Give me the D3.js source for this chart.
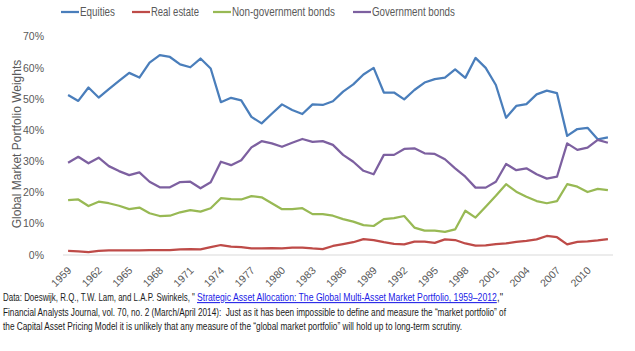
<!DOCTYPE html>
<html>
<head>
<meta charset="utf-8">
<script src="https://cdn.jsdelivr.net/npm/d3@7"></script>
<style>
  html, body { margin: 0; padding: 0; background: #fff; }
  svg { display: block; }
</style>
</head>
<body>
<svg id="chart" width="635" height="351"></svg>
<script>
const years = [1959, 1960, 1961, 1962, 1963, 1964, 1965, 1966, 1967, 1968,
  1969, 1970, 1971, 1972, 1973, 1974, 1975, 1976, 1977, 1978,
  1979, 1980, 1981, 1982, 1983, 1984, 1985, 1986, 1987, 1988,
  1989, 1990, 1991, 1992, 1993, 1994, 1995, 1996, 1997, 1998,
  1999, 2000, 2001, 2002, 2003, 2004, 2005, 2006, 2007, 2008,
  2009, 2010, 2011, 2012]

const tickYears = [1959, 1962, 1965, 1968, 1971, 1974, 1977, 1980, 1983, 1986,
  1989, 1992, 1995, 1998, 2001, 2004, 2007, 2010]

const yTicks = [0, 0.1, 0.2, 0.3, 0.4, 0.5, 0.6, 0.7]

// weights in %
const equities = [51.3, 49.4, 53.7, 50.5, 53.2, 55.8, 58.4, 56.9, 61.7, 64.1,
  63.5, 61.1, 60.2, 63.0, 59.8, 49.0, 50.4, 49.6, 44.3, 42.2,
  45.3, 48.3, 46.5, 45.2, 48.3, 48.1, 49.3, 52.4, 54.7, 57.9,
  60.0, 52.1, 52.1, 49.9, 52.9, 55.3, 56.4, 56.9, 59.5, 56.8,
  63.2, 60.0, 54.5, 44.0, 47.8, 48.4, 51.5, 52.7, 51.9, 38.2,
  40.4, 40.8, 37.1, 37.7]

const realEstate = [1.3, 1.2, 0.9, 1.3, 1.5, 1.5, 1.5, 1.5, 1.6, 1.6,
  1.6, 1.8, 1.9, 1.8, 2.5, 3.2, 2.7, 2.5, 2.1, 2.1,
  2.2, 2.1, 2.4, 2.4, 2.1, 1.9, 2.9, 3.5, 4.1, 5.1,
  4.8, 4.1, 3.6, 3.4, 4.3, 4.3, 3.9, 5.0, 4.8, 3.7,
  3.0, 3.1, 3.5, 3.7, 4.2, 4.5, 5.0, 6.1, 5.7, 3.4,
  4.2, 4.4, 4.7, 5.1]

const nonGovBonds = [17.6, 17.8, 15.7, 17.1, 16.6, 15.8, 14.7, 15.2, 13.4, 12.5,
  12.6, 13.7, 14.4, 13.9, 15.0, 18.2, 17.9, 17.8, 18.9, 18.5,
  16.6, 14.7, 14.7, 15.0, 13.1, 13.1, 12.6, 11.5, 10.7, 9.6,
  9.3, 11.5, 11.8, 12.5, 8.8, 7.8, 7.8, 7.4, 8.2, 14.2,
  12.0, 15.5, 19.0, 22.7, 20.3, 18.7, 17.3, 16.6, 17.3, 22.7,
  21.9, 20.2, 21.2, 20.8]

const govBonds = [29.6, 31.5, 29.4, 31.2, 28.5, 26.9, 25.6, 26.5, 23.5, 21.7,
  21.7, 23.4, 23.5, 21.4, 23.3, 29.9, 28.8, 30.4, 34.5, 36.5,
  35.8, 34.7, 36.0, 37.2, 36.3, 36.5, 35.3, 32.1, 29.9, 27.0,
  25.9, 32.1, 32.1, 34.0, 34.2, 32.6, 32.4, 30.7, 27.8, 25.1,
  21.6, 21.6, 23.5, 29.2, 27.2, 27.8, 25.9, 24.5, 25.1, 35.8,
  33.7, 34.4, 36.9, 36.0]

const seriesNames = ['Equities', 'Real estate', 'Non-government bonds', 'Government bonds']
const seriesColors = ['#4a7ebb', '#be4b48', '#98b954', '#7d60a0']
const seriesValues = [equities, realEstate, nonGovBonds, govBonds]

// source note pieces: [text, line, is link]
const notePieces = [
  ['Data: Doeswijk, R.Q., T.W. Lam, and L.A.P. Swinkels, "', 0, false],
  ['Strategic Asset Allocation: The Global Multi-Asset Market Portfolio, 1959–2012', 0, true],
  [',"', 0, false],
  ['Financial Analysts Journal, vol. 70, no. 2 (March/April 2014):\u00a0 Just as it has been impossible to define and measure the “market portfolio” of', 1, false],
  ['the Capital Asset Pricing Model it is unlikely that any measure of the “global market portfolio” will hold up to long-term scrutiny.', 2, false]
]

const font = "'Liberation Sans', Arial, sans-serif"
const svg = d3.select('#chart')

// squeeze a text horizontally so it spans the given width (Calibri-like narrowness)
function squeeze(sel, widths, place) {
  sel.each(function (d, i) {
    const natural = this.getComputedTextLength()
    const sx = natural ? Math.min(1, widths[i] / natural) : 1
    d3.select(this).attr('transform', `${place(d, i)} scale(${sx},1)`)
  })
}

const x = d3.scalePoint()
  .domain(years)
  .range([63, 613])
  .padding(0.5)

const y = d3.scaleLinear()
  .domain([0, 0.7])
  .range([255, 36.7])

// y axis labels
svg.append('g')
  .selectAll('text')
  .data(yTicks)
  .join('text')
  .attr('x', 44)
  .attr('y', d => y(d))
  .attr('dy', '0.35em')
  .attr('text-anchor', 'end')
  .attr('font-family', font)
  .attr('font-size', 10.5)
  .attr('fill', '#595959')
  .text(d3.format('.0%'))

svg.append('text')
  .attr('text-anchor', 'middle')
  .attr('font-family', font)
  .attr('font-size', 12)
  .attr('fill', '#595959')
  .text('Global Market Portfolio Weights')
  .call(squeeze, [187], () => 'translate(21,144) rotate(-90)')

// x axis baseline
svg.append('line')
  .attr('x1', 63).attr('x2', 613)
  .attr('y1', y(0)).attr('y2', y(0))
  .attr('stroke', '#d9d9d9')
  .attr('stroke-width', 1)

svg.append('g')
  .selectAll('text')
  .data(tickYears)
  .join('text')
  .attr('transform', d => `translate(${x(d) + 4},${y(0) + 16}) rotate(-45)`)
  .attr('text-anchor', 'end')
  .attr('font-family', font)
  .attr('font-size', 10.5)
  .attr('fill', '#595959')
  .text(d => d)

const line = d3.line()
  .x((d, i) => x(years[i]))
  .y(d => y(d / 100))

svg.append('g')
  .selectAll('path')
  .data(seriesValues)
  .join('path')
  .attr('d', d => line(d))
  .attr('fill', 'none')
  .attr('stroke', (d, i) => seriesColors[i])
  .attr('stroke-width', 2.25)
  .attr('stroke-linejoin', 'round')

// legend
const legendX = [61, 132, 213, 353]
const legendW = [35, 48, 103, 83]
const lg = svg.append('g')
  .selectAll('g')
  .data(seriesNames)
  .join('g')
  .attr('transform', (d, i) => `translate(${legendX[i]},12)`)

lg.append('line')
  .attr('x1', 0).attr('x2', 18)
  .attr('stroke', (d, i) => seriesColors[i])
  .attr('stroke-width', 2.25)

lg.append('text')
  .attr('dy', '0.35em')
  .attr('font-family', font)
  .attr('font-size', 12)
  .attr('fill', '#595959')
  .text(d => d)
  .call(squeeze, legendW, () => 'translate(19,0)')

// source note
const pieceX = [3, 197, 497, 3, 3]
const pieceW = [192, 300, 6, 504, 460]
svg.append('g')
  .selectAll('text')
  .data(notePieces)
  .join('text')
  .attr('font-family', font)
  .attr('font-size', 10.5)
  .attr('fill', d => d[2] ? '#1a1ae6' : '#1a1a1a')
  .attr('text-decoration', d => d[2] ? 'underline' : null)
  .text(d => d[0])
  .call(squeeze, pieceW, (d, i) => `translate(${pieceX[i]},${301 + d[1] * 14.5})`)
</script>
</body>
</html>
